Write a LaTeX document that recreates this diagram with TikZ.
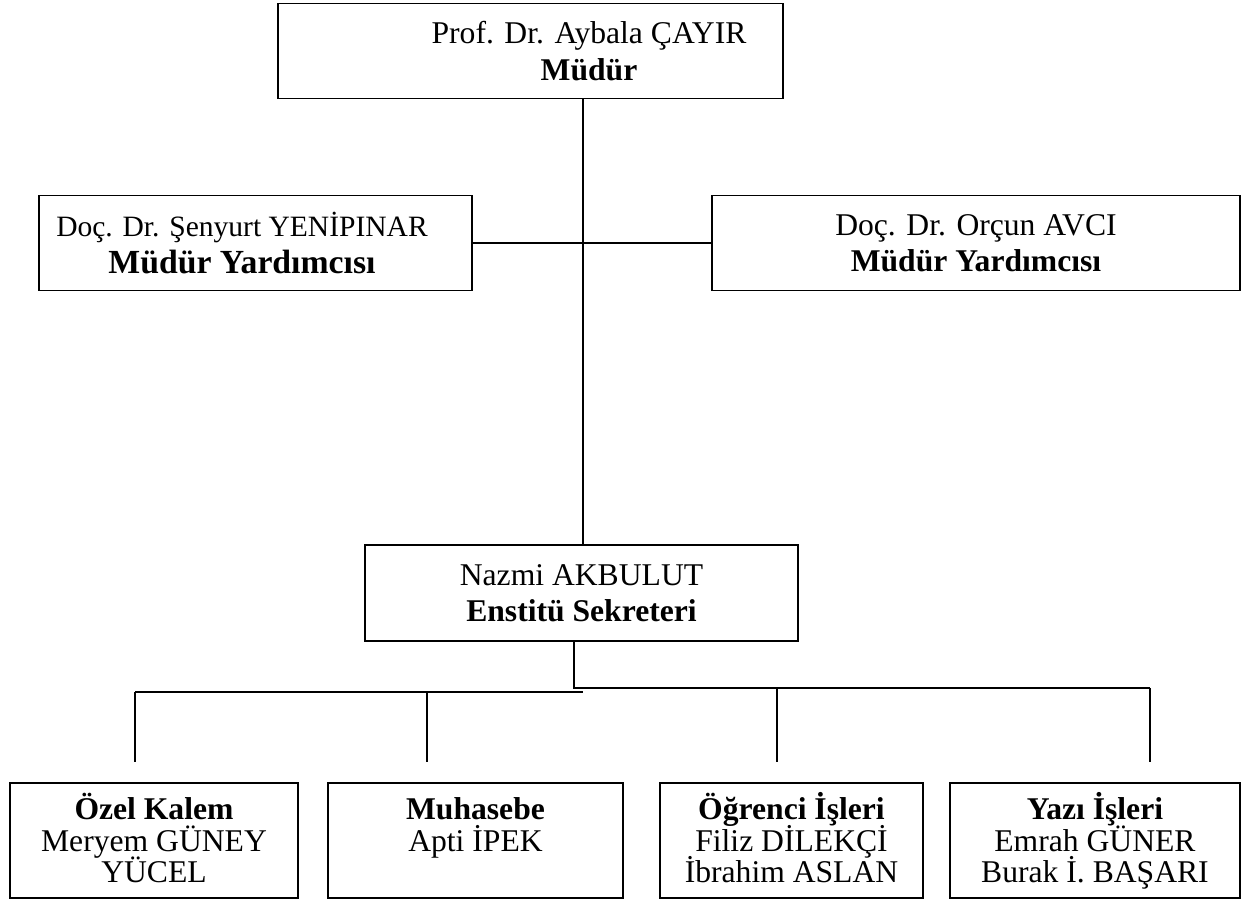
\documentclass[tikz,border=0pt]{standalone}
\usepackage{fontspec}
\setmainfont{Liberation Serif}
\usetikzlibrary{positioning,calc}
\newcommand{\topline}{\rule{0pt}{17pt}}
\newcommand{\botline}{\rule[-5pt]{0pt}{5pt}}
\newcommand{\deptfont}{\fontsize{18}{18}\selectfont\lineskiplimit=-20pt\relax}
\tikzset{
  unit/.style={rectangle, draw=black, line width=1.1pt, align=center, inner sep=2pt,
               font=\fontsize{18}{20.7}\selectfont, minimum width=#1, minimum height=1.9cm},
  unit/.default={8cm},
  dept/.style={unit=#1, minimum height=2.3cm, font=\deptfont},
  caption/.style={align=center, inner sep=2pt, font=\fontsize{18}{20.7}\selectfont},
  link/.style={line width=0.9pt, black},
}
\begin{document}
\begin{tikzpicture}
\useasboundingbox (0,0) rectangle (24.96,-18.14);
% director and deputies
\node[unit=10.1cm] (mudur) at (10.61,-1.02) {};
\node[caption] (mudurtxt) at (11.78,-1.02) {Prof. Dr. Aybala ÇAYIR\\\textbf{Müdür}};
\node[unit=8.66cm] (yrdL) at (5.11,-4.86) {};
\node[caption, font=\fontsize{19.2}{20.7}\selectfont] (yrdLtxt) at (4.84,-4.86)
  {{\fontsize{16.8}{20.7}\selectfont Doç. Dr. Şenyurt YENİPINAR}\\\textbf{Müdür Yardımcısı}};
\node[unit=10.56cm] (yrdR) at (19.52,-4.86) {Doç. Dr. Orçun AVCI\\\textbf{Müdür Yardımcısı}};
% secretary
\node[unit=8.66cm, minimum height=1.92cm] (sekreter) at (11.63,-11.86) {Nazmi AKBULUT\\\textbf{Enstitü Sekreteri}};
% departments
\node[dept=5.76cm] (ozel) at (3.08,-16.81) {\topline\textbf{Özel Kalem}\\Meryem GÜNEY\\YÜCEL\botline};
\node[dept=5.9cm] (muhasebe) at (9.51,-16.81) {\topline\textbf{Muhasebe}\\Apti İPEK\\\botline};
\node[dept=5.26cm] (ogrenci) at (15.83,-16.81) {\topline\textbf{Öğrenci İşleri}\\Filiz DİLEKÇİ\\İbrahim ASLAN\botline};
\node[dept=5.8cm] (yazi) at (21.9,-16.81) {\topline\textbf{Yazı İşleri}\\Emrah GÜNER\\Burak İ. BAŞARI\botline};
% connectors
\coordinate (spine) at (11.66,0);
\draw[link] (mudur.south -| spine) -- (sekreter.north -| spine);
\draw[link] (yrdL.east) -- (yrdR.west);
\coordinate (busA) at (2.7,-13.84);
\coordinate (busB) at (11.66,-13.84);
\coordinate (busC) at (11.48,-13.76);
\coordinate (busD) at (23.0,-13.76);
\draw[link] (sekreter.south -| busC) -- (busC) -- (busD);
\draw[link] (busA) -- (busB);
\coordinate (dropA) at (2.7,-13.84);
\coordinate (dropB) at (8.54,-13.84);
\coordinate (dropC) at (15.54,-13.76);
\coordinate (dropD) at (23.0,-13.76);
\coordinate (lvl) at (0,-15.24);
\foreach \d in {A,B,C,D}
  \draw[link] (drop\d) -- (drop\d |- lvl);
\end{tikzpicture}
\end{document}
